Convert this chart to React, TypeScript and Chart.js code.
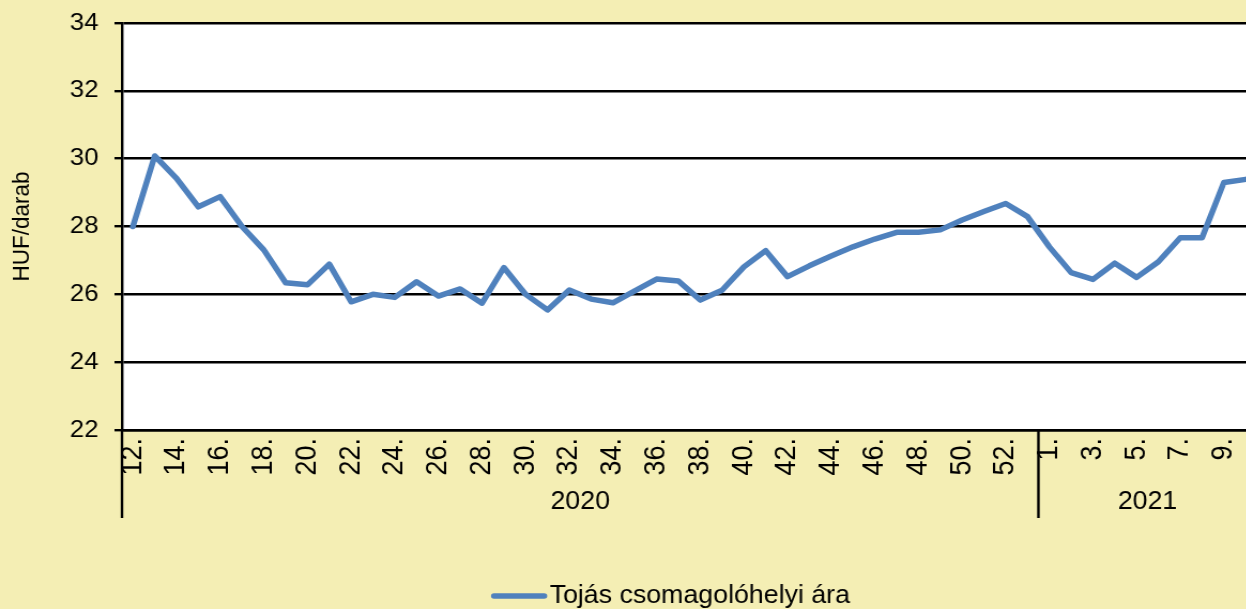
import { useEffect, useRef } from "react";
import { Chart, registerables } from "chart.js";

Chart.register(...registerables);

// ---- data ----
const weeks2020 = [12, 13, 14, 15, 16, 17, 18, 19, 20, 21, 22, 23, 24, 25, 26, 27, 28, 29, 30, 31, 32, 33, 34, 35, 36, 37, 38, 39, 40, 41, 42, 43, 44, 45, 46, 47, 48, 49, 50, 51, 52, 53];
const weeks2021 = [1, 2, 3, 4, 5, 6, 7, 8, 9, 10];
const years = ["2020", "2021"];
const prices2020 = [
  28.0, 30.08, 29.42, 28.58, 28.88, 28.0, 27.31, 26.34, 26.28, 26.89,
  25.78, 26.0, 25.91, 26.37, 25.95, 26.16, 25.74, 26.79, 26.0, 25.54,
  26.13, 25.86, 25.75, 26.1, 26.45, 26.39, 25.83, 26.12, 26.81, 27.29,
  26.52, 26.84, 27.13, 27.4, 27.63, 27.83, 27.83, 27.9, 28.19, 28.44,
  28.68, 28.29,
];
const prices2021 = [27.4, 26.64, 26.44, 26.92, 26.5, 26.96, 27.67, 27.67, 29.3, 29.39];
const yMin = 22;
const yMax = 34;
const yStep = 2;
const seriesLabel = "Tojás csomagolóhelyi ára";
const yTitle = "HUF/darab";

// ---- style ----
const SX = 1.07;
const FONT = "'Liberation Sans', Arial, sans-serif";
const BG = "#F4EEB4";
const LINE = "#4F81BD";
const CANVAS_W = 1254;
const CANVAS_H = 609;
const CAT_W = 21.82 / SX;
const AXIS_W = 114;

const categoryLabels = [
  ...weeks2020.map((w) => `${w}.`),
  ...weeks2021.map((w) => `${w}.`),
];
const values = [...prices2020, ...prices2021];
const groupSizes = [weeks2020.length, weeks2021.length];

const decorPlugin = {
  id: "decor",
  beforeDraw(chart: any) {
    const { ctx, chartArea: a } = chart;
    ctx.save();
    ctx.fillStyle = "#ffffff";
    ctx.fillRect(a.left, a.top, a.right - a.left, a.bottom - a.top);
    ctx.restore();
  },
  afterDraw(chart: any) {
    const { ctx, chartArea: a } = chart;
    const x = chart.scales.x;
    const half = (x.getPixelForValue(1) - x.getPixelForValue(0)) / 2;
    const sepBottom = a.bottom + 88;
    ctx.save();
    ctx.strokeStyle = "#000";
    ctx.lineWidth = 2.4;
    ctx.fillStyle = "#000";
    ctx.font = `25px ${FONT}`;
    ctx.textAlign = "center";
    ctx.textBaseline = "alphabetic";
    let start = 0;
    groupSizes.forEach((n, g) => {
      const left = x.getPixelForValue(start) - half;
      const right = x.getPixelForValue(start + n - 1) + half;
      ctx.beginPath();
      ctx.moveTo(left, a.bottom);
      ctx.lineTo(left, sepBottom);
      ctx.stroke();
      ctx.fillText(years[g], (left + right) / 2, a.bottom + 79);
      start += n;
    });

    // legend
    ctx.font = `25px ${FONT}`;
    const tw = ctx.measureText(seriesLabel).width;
    const lineW = 51;
    const gap = 3;
    const total = lineW + gap + tw;
    const sx = chart.width / 2 - total / 2;
    const ly = 596;
    ctx.strokeStyle = LINE;
    ctx.lineWidth = 5.5;
    ctx.lineCap = "round";
    ctx.beginPath();
    ctx.moveTo(sx + 2, ly);
    ctx.lineTo(sx + lineW - 2, ly);
    ctx.stroke();
    ctx.textAlign = "left";
    ctx.fillText(seriesLabel, sx + lineW + gap, 603);
    ctx.restore();
  },
};

export default function App() {
  const ref = useRef<HTMLCanvasElement | null>(null);

  useEffect(() => {
    if (!ref.current) return;
    const chart = new Chart(ref.current, {
      type: "line",
      data: {
        labels: categoryLabels,
        datasets: [
          {
            label: seriesLabel,
            data: values,
            borderColor: LINE,
            backgroundColor: LINE,
            borderWidth: 5.5,
            pointRadius: 0,
            pointHoverRadius: 0,
            tension: 0,
            borderJoinStyle: "round",
            borderCapStyle: "round",
          },
        ],
      },
      options: {
        animation: false,
        responsive: false,
        devicePixelRatio: 1,
        layout: {
          padding: {
            top: 23,
            right: CANVAS_W - AXIS_W - categoryLabels.length * CAT_W,
            bottom: 0,
            left: 0,
          },
        },
        plugins: {
          legend: { display: false },
          tooltip: { enabled: false },
        },
        scales: {
          x: {
            type: "category",
            offset: true,
            grid: { display: false, drawTicks: false },
            border: { display: true, color: "#000", width: 2.4 },
            ticks: {
              autoSkip: false,
              maxRotation: 90,
              minRotation: 90,
              padding: 8,
              color: "#000",
              font: { family: FONT, size: 27 },
              callback: (_v: any, i: number) => (i % 2 === 0 ? categoryLabels[i] : ""),
            },
            afterFit: (s: any) => {
              s.height = 179;
            },
          },
          y: {
            min: yMin,
            max: yMax,
            ticks: {
              stepSize: yStep,
              padding: 15,
              color: "#000",
              font: { family: FONT, size: 24, lineHeight: 0.6 },
            },
            grid: { color: "#000", lineWidth: 2.4, tickLength: 7, drawTicks: true },
            border: { display: true, color: "#000", width: 2.4 },
            title: {
              display: true,
              text: yTitle,
              color: "#000",
              font: { family: FONT, size: 22.5 },
              padding: { top: 7, bottom: 0 },
            },
            afterFit: (s: any) => {
              s.width = AXIS_W;
            },
          },
        },
      },
      plugins: [decorPlugin],
    });
    return () => chart.destroy();
  }, []);

  return (
    <div
      style={{
        position: "absolute",
        left: 0,
        top: 0,
        width: 1246,
        height: 609,
        overflow: "hidden",
        background: BG,
      }}
    >
      <canvas
        ref={ref}
        width={CANVAS_W}
        height={CANVAS_H}
        style={{ transform: `scaleX(${SX})`, transformOrigin: "0 0", display: "block" }}
      />
    </div>
  );
}
